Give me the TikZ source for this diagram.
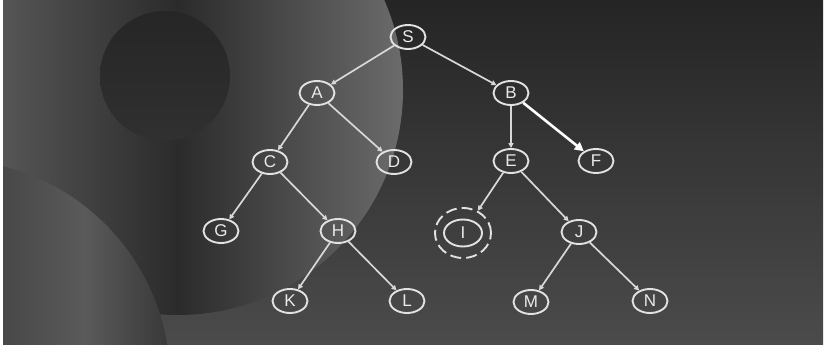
\documentclass[tikz,border=0pt]{standalone}
\usepackage{fontspec}
\setsansfont{Liberation Sans}
\usepackage{xcolor}
\usetikzlibrary{shapes.geometric, positioning, arrows.meta}

\definecolor{bgtop}{HTML}{252525}
\definecolor{bgbot}{HTML}{4B4B4B}
\definecolor{orbleft}{HTML}{616161}
\definecolor{orbmid}{HTML}{2B2B2B}
\definecolor{orbright}{HTML}{6B6B6B}
\definecolor{holetop}{HTML}{262626}
\definecolor{holebot}{HTML}{303030}
\definecolor{arcleft}{HTML}{474747}
\definecolor{arcmid}{HTML}{5A5A5A}
\definecolor{arcright}{HTML}{383838}
\definecolor{nodeline}{HTML}{E2E2E2}
\definecolor{nodetext}{HTML}{EAEAEA}
\definecolor{edgeline}{HTML}{D8D8D8}

\begin{document}
\begin{tikzpicture}[
        x=1pt, y=1pt,
        % tree vertex
        tnode/.style={
            ellipse,
            draw=nodeline,
            line width=1.9pt,
            minimum width=35pt,
            minimum height=24pt,
            inner sep=0pt,
            text=nodetext,
            font=\sffamily\fontsize{17}{17}\selectfont
        },
        % dashed ring round the goal
        ring/.style={
            ellipse,
            draw=nodeline,
            line width=1.9pt,
            dash pattern=on 11pt off 5pt,
            minimum width=56pt,
            minimum height=50pt,
            inner sep=0pt
        },
        edge/.style={
            draw=edgeline,
            line width=1.7pt,
            -{Triangle[length=5pt,width=5pt]}
        },
        hiedge/.style={
            draw=white,
            line width=2.6pt,
            -{Triangle[length=9pt,width=9pt]}
        }
    ]

    % ==========================================
    % BACKGROUND
    % ==========================================
    \useasboundingbox (0,0) rectangle (825,346);
    \fill[white] (0,0) rectangle (825,346);

    \begin{scope}
        \clip (3,2) rectangle (823,345);
        \shade[top color=bgtop, bottom color=bgbot] (3,2) rectangle (823,345);

        % big orb
        \shade[left color=orbleft, right color=orbright, middle color=orbmid]
            (178,256) circle (225);

        % dark hole
        \shade[top color=holetop, bottom color=holebot] (165,270) circle (65);

        % lower left arc
        \begin{scope}
            \clip (-50,-34) circle (220);
            \shade[left color=arcleft, right color=arcright, middle color=arcmid]
                (0,0) rectangle (170,196);
        \end{scope}
    \end{scope}

    % ==========================================
    % TREE
    % ==========================================

    % Level 0
    \node[tnode] (S) at (408,309) {S};

    % Level 1
    \node[tnode] (A) at (317,253) {A};
    \node[tnode] (B) at (511,253) {B};

    % Level 2
    \node[tnode] (C) at (270,184) {C};
    \node[tnode] (D) at (394,184) {D};
    \node[tnode] (E) at (511,185) {E};
    \node[tnode] (F) at (596,185) {F};

    % Level 3
    \node[tnode] (G) at (221,115) {G};
    \node[tnode] (H) at (338,115) {H};
    \node[tnode, minimum width=38pt, minimum height=27pt] (I) at (463,113) {I};
    \node[tnode] (J) at (579,114) {J};
    \node[ring] (Iring) at (I) {};

    % Level 4
    \node[tnode] (K) at (290,45) {K};
    \node[tnode] (L) at (407,45) {L};
    \node[tnode] (M) at (531,44) {M};
    \node[tnode] (N) at (650,45) {N};

    % Edges
    \draw[edge] (S) -- (A);
    \draw[edge] (S) -- (B);
    \draw[edge] (A) -- (C);
    \draw[edge] (A) -- (D);
    \draw[edge] (B) -- (E);
    \draw[hiedge] (B) -- (F);
    \draw[edge] (C) -- (G);
    \draw[edge] (C) -- (H);
    \draw[edge] (E) -- (Iring);
    \draw[edge] (E) -- (J);
    \draw[edge] (H) -- (K);
    \draw[edge] (H) -- (L);
    \draw[edge] (J) -- (M);
    \draw[edge] (J) -- (N);

\end{tikzpicture}
\end{document}
